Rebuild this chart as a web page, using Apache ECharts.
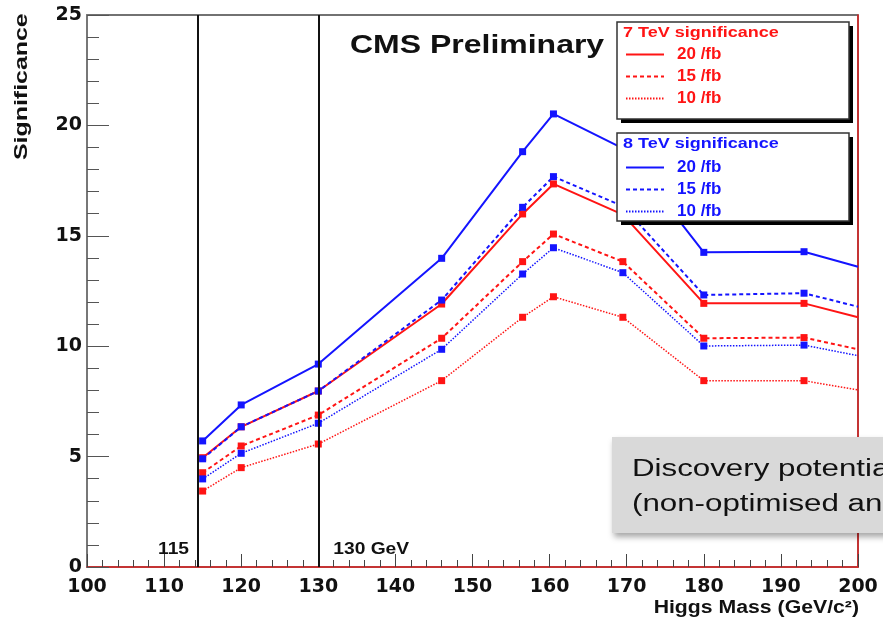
<!DOCTYPE html>
<html>
<head>
<meta charset="utf-8">
<script src="https://cdn.jsdelivr.net/npm/echarts@6/dist/echarts.min.js"></script>
<style>html,body{margin:0;padding:0;background:#fff}#c{width:883px;height:629px}</style>
</head>
<body>
<div id="c"></div>
<script>
// Higgs masses (GeV/c^2)
const masses = [115, 120, 130, 146, 156.5, 160.5, 169.5, 180, 193, 200];
// 7 TeV significance
const sig7_20 = [4.95, 6.35, 7.97, 11.91, 15.99, 17.35, 15.96, 11.94, 11.94, 11.31];
const sig7_15 = [4.27, 5.48, 6.88, 10.36, 13.83, 15.08, 13.83, 10.36, 10.39, 9.86];
const sig7_10 = [3.44, 4.50, 5.57, 8.44, 11.31, 12.24, 11.31, 8.44, 8.44, 8.02];
// 8 TeV significance
const sig8_20 = [5.71, 7.34, 9.19, 13.98, 18.81, 20.52, 18.96, 14.25, 14.28, 13.60];
const sig8_15 = [4.90, 6.35, 7.97, 12.09, 16.29, 17.68, 16.34, 12.32, 12.40, 11.79];
const sig8_10 = [3.99, 5.15, 6.51, 9.86, 13.27, 14.46, 13.33, 10.01, 10.05, 9.57];
const lumiLabels = ['20 /fb', '15 /fb', '10 /fb'];
const refLines = [114.4, 130];
const refLabels = ['115', '130 GeV'];

const RED = '#ff1414', BLUE = '#1414ff';
const FONT = 'Liberation Sans, Arial, sans-serif';
const WFONT = 'DejaVu Sans, Liberation Sans, sans-serif';

function pts(ys) {
  return masses.map((m, i) => i === masses.length - 1 ? {value: [m, ys[i]], symbol: 'none'} : [m, ys[i]]);
}
const styles = [
  {type: 'solid', width: 2},
  {type: [4, 3], width: 2},
  {type: [1.5, 1.5], width: 1.5}
];
function mk(name, ys, color, k) {
  return {
    name: name, type: 'line', data: pts(ys), symbol: 'rect', symbolSize: 7,
    itemStyle: {color: color}, lineStyle: Object.assign({color: color}, styles[k]),
    animation: false, clip: true, z: 2
  };
}
const series = [
  mk('7 TeV ' + lumiLabels[0], sig7_20, RED, 0),
  mk('7 TeV ' + lumiLabels[1], sig7_15, RED, 1),
  mk('7 TeV ' + lumiLabels[2], sig7_10, RED, 2),
  mk('8 TeV ' + lumiLabels[0], sig8_20, BLUE, 0),
  mk('8 TeV ' + lumiLabels[1], sig8_15, BLUE, 1),
  mk('8 TeV ' + lumiLabels[2], sig8_10, BLUE, 2)
];
series[0].markLine = {
  silent: true, symbol: 'none', animation: false,
  lineStyle: {color: '#111', width: 2, type: 'solid'},
  label: {show: false},
  data: refLines.map(v => ({xAxis: v}))
};

function legendOf(prefix, top, color) {
  return {
    data: lumiLabels.map(l => prefix + l), orient: 'vertical', left: 625, top: top,
    itemWidth: 38, itemHeight: 16, itemGap: 5, padding: 0,
    backgroundColor: 'transparent', borderWidth: 0, z: 6,
    itemStyle: {opacity: 0},
    formatter: n => n.replace(prefix, ''),
    textStyle: {color: color, fontFamily: FONT, fontWeight: 'bold', fontSize: 17, padding: [0, 0, 0, 8]},
    selectedMode: false
  };
}

const chart = echarts.init(document.getElementById('c'), null, {renderer: 'canvas'});
const option = {
  animation: false,
  backgroundColor: '#fff',
  grid: {left: 87, right: 25, top: 15, bottom: 62, show: true, borderColor: '#444', borderWidth: 1.5, backgroundColor: 'transparent'},
  xAxis: {
    type: 'value', min: 100, max: 200, interval: 10,
    axisLine: {show: true, lineStyle: {color: '#e02020', width: 1.5}},
    axisTick: {show: true, inside: true, length: 13, lineStyle: {color: '#444', width: 1}},
    minorTick: {show: true, splitNumber: 5, length: 7, lineStyle: {color: '#444', width: 1}},
    splitLine: {show: false},
    axisLabel: {color: '#111', fontFamily: WFONT, fontWeight: 'bold', fontSize: 19, margin: 11}
  },
  yAxis: [{
    type: 'value', min: 0, max: 25, interval: 5,
    axisLine: {show: true, lineStyle: {color: '#777', width: 2}},
    axisTick: {show: true, inside: true, length: 22, lineStyle: {color: '#555', width: 1}},
    minorTick: {show: true, splitNumber: 5, length: 12, lineStyle: {color: '#555', width: 1}},
    splitLine: {show: false},
    axisLabel: {color: '#111', fontFamily: WFONT, fontWeight: 'bold', fontSize: 19, margin: 5}
  }, {
    type: 'value', min: 0, max: 25, position: 'right',
    axisLine: {show: true, lineStyle: {color: '#e02020', width: 1.5}},
    axisTick: {show: false}, axisLabel: {show: false}, splitLine: {show: false}
  }],
  legend: [legendOf('7 TeV ', 46, RED), legendOf('8 TeV ', 159, BLUE)],
  series: series,
  graphic: []
};
chart.setOption(option);

const g = [];
// legend frames with hard shadow
[[617, 22, 232, 97], [617, 133, 232, 88]].forEach(b => {
  g.push({type: 'rect', z: 3, shape: {x: b[0] + 4, y: b[1] + 4, width: b[2], height: b[3]}, style: {fill: '#000'}});
  g.push({type: 'rect', z: 3, shape: {x: b[0], y: b[1], width: b[2], height: b[3]}, style: {fill: '#fff', stroke: '#333', lineWidth: 1.5}});
});
g.push({type: 'text', z: 7, x: 623, y: 25, scaleX: 1.2, style: {text: '7 TeV significance', fill: RED, font: 'bold 15px ' + FONT, verticalAlign: 'top'}});
g.push({type: 'text', z: 7, x: 623, y: 136, scaleX: 1.2, style: {text: '8 TeV significance', fill: BLUE, font: 'bold 15px ' + FONT, verticalAlign: 'top'}});
g.push({type: 'text', z: 10, x: 350, y: 33, scaleX: 1.23, style: {text: 'CMS Preliminary', fill: '#111', font: 'bold 26px ' + FONT, verticalAlign: 'top'}});
g.push({type: 'text', z: 10, rotation: Math.PI / 2, x: 12, y: 160, scaleX: 1.31, style: {text: 'Significance', fill: '#111', font: 'bold 19px ' + FONT, align: 'left', verticalAlign: 'top'}});
g.push({type: 'text', z: 10, x: 859, y: 599, scaleX: 1.18, style: {text: 'Higgs Mass (GeV/c²)', fill: '#111', font: 'bold 18px ' + FONT, align: 'right', verticalAlign: 'top'}});
// reference line labels
const p1 = chart.convertToPixel({xAxisIndex: 0, yAxisIndex: 0}, [refLines[0], 0]);
const p2 = chart.convertToPixel({xAxisIndex: 0, yAxisIndex: 0}, [refLines[1], 0]);
g.push({type: 'text', z: 10, x: p1[0] - 9, y: p1[1] - 9, scaleX: 1.2, style: {text: refLabels[0], fill: '#111', font: 'bold 16px ' + FONT, align: 'right', verticalAlign: 'bottom'}});
g.push({type: 'text', z: 10, x: p2[0] + 15, y: p2[1] - 9, scaleX: 1.2, style: {text: refLabels[1], fill: '#111', font: 'bold 16px ' + FONT, align: 'left', verticalAlign: 'bottom'}});
// discovery box
g.push({type: 'rect', z: 50, shape: {x: 612, y: 437, width: 300, height: 96}, style: {fill: '#d9d9d9', shadowColor: 'rgba(0,0,0,0.35)', shadowBlur: 6, shadowOffsetX: 2, shadowOffsetY: 4}});
g.push({type: 'text', z: 51, x: 632, y: 452, scaleX: 1.36, style: {text: 'Discovery potential\n(non-optimised analysis)', fill: '#111', font: '23px ' + FONT, lineHeight: 35, verticalAlign: 'top'}});
chart.setOption({graphic: g});
</script>
</body>
</html>
